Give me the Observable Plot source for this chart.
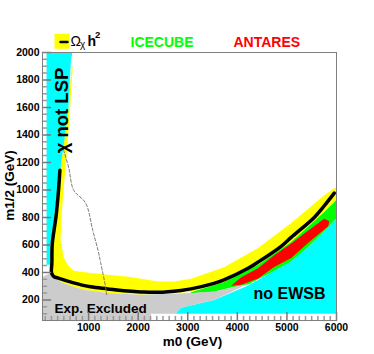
<!DOCTYPE html>
<html><head><meta charset="utf-8">
<script src="https://cdn.jsdelivr.net/npm/d3@7"></script>
<script src="https://cdn.jsdelivr.net/npm/@observablehq/plot@0.6"></script>
<style>body{margin:0;background:#fff}</style>
</head><body><div id="chart"></div>
<script>
// ---- data (m0, m1/2 in GeV) ----
const lspM0  = [152, 674, 643, 590, 502, 455, 368, 320, 280, 233, 233, 152];
const lspM12 = [2000, 2000, 1942, 1579, 1340, 1216, 977, 853, 700, 607, 455, 455];

const omegaBandM0  = [680, 623, 576, 489, 455, 435, 495, 576, 698, 1041, 1385, 1850, 2396, 2720, 3064, 3731, 4418, 5086, 5753, 5955, 5996, 5996, 5753, 5086, 4418, 3731, 3064, 2053, 1385, 900, 698, 435, 253, 240, 245, 320, 375, 410, 455, 502, 590, 655];
const omegaBandM12 = [1890, 1579, 1340, 977, 810, 636, 512, 455, 412, 396, 382, 367, 333, 333, 353, 437, 578, 759, 962, 1013, 1020, 926, 839, 621, 455, 331, 258, 237, 251, 273, 295, 331, 380, 469, 607, 810, 1000, 1144, 1216, 1340, 1579, 1890];

const icecubeM0  = [3064, 3327, 3731, 4418, 5086, 5753, 5996, 5996, 5753, 5430, 5086, 4742, 4216, 3873, 3529, 3064];
const icecubeM12 = [256, 285, 331, 455, 621, 839, 926, 790, 700, 585, 480, 410, 312, 290, 259, 249];

const antaresM0  = [3873, 4080, 4418, 4742, 5086, 5430, 5753, 5854, 5834, 5430, 5086, 4742, 4418, 4080];
const antaresM12 = [302, 365, 430, 525, 610, 705, 790, 772, 735, 615, 505, 440, 355, 310];

const ewsbM0  = [2750, 2861, 3529, 4216, 4742, 5086, 5430, 5753, 5996, 5996];
const ewsbM12 = [100, 142, 200, 305, 410, 480, 585, 700, 790, 100];

const exclM0  = [70, 70, 233, 435, 698, 900, 1385, 2053, 3064, 3529, 4216, 3529, 2861, 2750, 2255, 2255, 70];
const exclM12 = [50, 369, 396, 331, 295, 273, 251, 237, 251, 261, 316, 200, 142, 100, 100, 50, 50];

const omegaLineM0  = [421, 394, 344, 300, 267, 259, 253, 300, 374, 698, 1041, 1385, 1709, 2053, 2396, 2861, 3064, 3529, 3731, 4216, 4418, 4884, 5086, 5551, 5753, 5955];
const omegaLineM12 = [1144, 1000, 810, 700, 607, 469, 396, 370, 360, 324, 295, 280, 266, 258, 255, 269, 280, 320, 345, 430, 475, 590, 655, 800, 885, 977];

const dashM0  = [495, 600, 698, 940, 1082, 1190, 1244, 1345, 1365];
const dashM12 = [1290, 1160, 999, 904, 708, 560, 469, 287, 229];

const xMajor = [1000, 2000, 3000, 4000, 5000, 6000];
const yMajor = [200, 400, 600, 800, 1000, 1200, 1400, 1600, 1800, 2000];
const xMinor = d3.range(125, 6000, 125).filter(v => v % 1000 !== 0);
const yMinor = d3.range(100, 2000, 50).filter(v => v % 200 !== 0);

const legendItems = ["ICECUBE", "ANTARES"];

// ---- helpers ----
const pts = (xs, ys) => xs.map((x, i) => ({x, y: ys[i]}));
const tickShape = {draw(ctx, l) { ctx.moveTo(0, 0); ctx.lineTo(0, -l); }};
const font = "'Liberation Sans', Arial, Helvetica, sans-serif";
const poly = (xs, ys, color) => Plot.line(pts(xs, ys), {x: "x", y: "y", fill: color, stroke: "none", curve: "linear-closed"});

const plot = Plot.plot({
  width: 374, height: 354,
  marginLeft: 42, marginRight: 38, marginTop: 52, marginBottom: 34,
  x: {domain: [70, 6000]},
  y: {domain: [50, 2000]},
  style: {fontFamily: font, fontSize: "10.5px", fontWeight: "bold", background: "white", color: "black"},
  marks: [
    poly(omegaBandM0, omegaBandM12, "#ffff00"),
    poly(icecubeM0, icecubeM12, "#00ff00"),
    poly(antaresM0, antaresM12, "#ff0000"),
    poly(ewsbM0, ewsbM12, "#00ffff"),
    poly(exclM0, exclM12, "#cccccc"),
    poly(lspM0, lspM12, "#00ffff"),
    Plot.line(pts(omegaLineM0, omegaLineM12), {x: "x", y: "y", stroke: "black", strokeWidth: 3.5, curve: "catmull-rom"}),
    Plot.line(pts(dashM0, dashM12), {x: "x", y: "y", stroke: "#777", strokeWidth: 1, strokeDasharray: "3,2", curve: "catmull-rom"}),
    // region labels
    Plot.text(["χ not LSP"], {x: 463, y: 1578, rotate: -90, fontSize: 18.5, fontWeight: "bold", textAnchor: "middle", lineAnchor: "middle"}),
    Plot.text(["Exp. Excluded"], {x: 312, y: 101, fontSize: 13.5, fontWeight: "bold", textAnchor: "start", lineAnchor: "bottom"}),
    Plot.text(["no EWSB"], {x: 4326, y: 210, fontSize: 16, fontWeight: "bold", textAnchor: "start", lineAnchor: "bottom"}),
    // inward ticks
    Plot.vector(yMajor, {y: d => d, frameAnchor: "left", rotate: 90, length: 8, anchor: "start", shape: tickShape, stroke: "#777"}),
    Plot.vector(yMinor, {y: d => d, frameAnchor: "left", rotate: 90, length: 4, anchor: "start", shape: tickShape, stroke: "#999"}),
    Plot.vector(xMajor, {x: d => d, frameAnchor: "bottom", rotate: 0, length: 8, anchor: "start", shape: tickShape, stroke: "#777"}),
    Plot.vector(xMinor, {x: d => d, frameAnchor: "bottom", rotate: 0, length: 4, anchor: "start", shape: tickShape, stroke: "#999"}),
    Plot.axisY({ticks: yMajor, tickSize: 0, tickPadding: 3, tickFormat: d => String(d), label: null}),
    Plot.axisX({ticks: xMajor, tickSize: 0, tickPadding: 3, tickFormat: d => String(d), label: null}),
    Plot.frame({stroke: "#808080"}),
    // axis titles
    Plot.text(["m0 (GeV)"], {frameAnchor: "bottom", dx: 3, dy: 25, lineAnchor: "bottom", textAnchor: "middle", fontSize: 13.5, fontWeight: "bold"}),
    Plot.text(["m1/2 (GeV)"], {frameAnchor: "left", dx: -29, dy: -1, rotate: -90, lineAnchor: "bottom", textAnchor: "middle", fontSize: 13.5, fontWeight: "bold"}),
    // legend
    Plot.dot([0], {frameAnchor: "top-left", dx: 19.5, dy: -11.2, symbol: "square", r: 8.46, fill: "#ffff00", stroke: "none"}),
    Plot.vector([0], {frameAnchor: "top-left", dx: 18, dy: -10.5, rotate: 90, length: 7, anchor: "start", shape: tickShape, stroke: "black", strokeWidth: 2.5}),
    Plot.text(["Ω"], {frameAnchor: "top-left", dx: 28, dy: -7, textAnchor: "start", lineAnchor: "bottom", fontSize: 14, fontWeight: "normal"}),
    Plot.text(["χ"], {frameAnchor: "top-left", dx: 37.5, dy: -5, textAnchor: "start", lineAnchor: "bottom", fontSize: 10, fontWeight: "normal"}),
    Plot.text(["h"], {frameAnchor: "top-left", dx: 45, dy: -7, textAnchor: "start", lineAnchor: "bottom", fontSize: 14, fontWeight: "bold"}),
    Plot.text(["2"], {frameAnchor: "top-left", dx: 52.5, dy: -15, textAnchor: "start", lineAnchor: "bottom", fontSize: 9.5, fontWeight: "bold"}),
    Plot.text([legendItems[0]], {frameAnchor: "top-left", dx: 88, dy: -5.5, textAnchor: "start", lineAnchor: "bottom", fontSize: 14, fontWeight: "bold", fill: "#00ff00"}),
    Plot.text([legendItems[1]], {frameAnchor: "top-left", dx: 191, dy: -5.5, textAnchor: "start", lineAnchor: "bottom", fontSize: 14, fontWeight: "bold", fill: "#ff0000"})
  ]
});
document.getElementById("chart").appendChild(plot);
</script>
</body></html>
